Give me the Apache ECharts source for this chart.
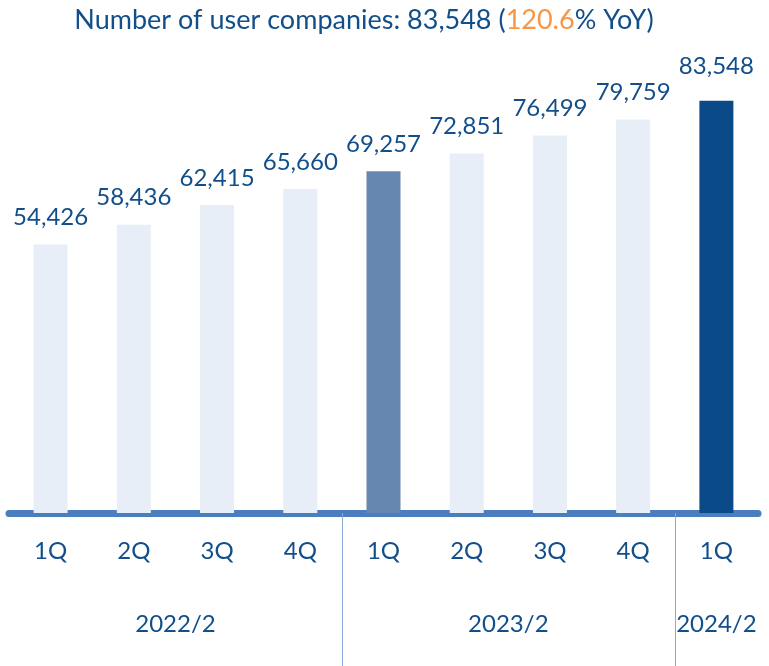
<!DOCTYPE html>
<html><head><meta charset="utf-8">
<script src="https://cdn.jsdelivr.net/npm/echarts@6/dist/echarts.min.js"></script>
<style>html,body{margin:0;padding:0;background:#fff}#c{width:769px;height:666px}</style>
</head><body><div id="c"></div>
<script>
const quarters = ['1Q','2Q','3Q','4Q','1Q','2Q','3Q','4Q','1Q'];
const userCompanies = [54426,58436,62415,65660,69257,72851,76499,79759,83548];
const fiscalYears = ['2022/2','2023/2','2024/2'];
const quartersPerYear = [4,4,1];
const yoyGrowth = '120.6';

const FONT = 'Lato';
const TEXT = '#124E8A';
const fmt = v => v.toLocaleString('en-US');

// group label centers and separator positions in band units
const groupCenters = [], separators = [];
let start = 0;
quartersPerYear.forEach((n, i) => {
  groupCenters.push(start + n / 2);
  start += n;
  if (i < quartersPerYear.length - 1) separators.push(start);
});

const last = userCompanies.length - 1;
const barData = userCompanies.map((v, i) => {
  let color = '#E7EEF7';
  if (i === last) color = '#0A4A88';
  else if (i === last - 4) color = '#6687B0';
  const item = { value: v, itemStyle: { color } };
  if (i === last) item.label = { distance: 23 };
  return item;
});

const chart = echarts.init(document.getElementById('c'));
chart.setOption({
  animation: false,
  title: {
    text: '{a|Number of user companies: ' + fmt(userCompanies[last]) + ' (}{b|' + yoyGrowth + '}{a|% YoY)}',
    left: 359, top: 2,
    textAlign: 'center',
    textStyle: {
      fontWeight: 'normal',
      rich: {
        a: { fontFamily: FONT, fontSize: 27, fontWeight: 'normal', color: TEXT },
        b: { fontFamily: FONT, fontSize: 27, fontWeight: 'normal', color: '#F79646' }
      }
    }
  },
  grid: { left: 9, right: 11, top: 69, bottom: 153, containLabel: false },
  xAxis: [{
    type: 'category',
    data: quarters,
    position: 'bottom',
    axisLine: { lineStyle: { color: '#4A7EBF', width: 7 } },
    axisTick: { show: false },
    axisLabel: { fontFamily: FONT, fontSize: 24, color: TEXT, margin: 26 }
  }, {
    type: 'value',
    min: 0, max: quarters.length,
    position: 'bottom',
    axisLine: { show: false },
    splitLine: { show: false },
    axisTick: { show: true, customValues: separators, length: 153, inside: false,
      lineStyle: { color: '#8EAADB', width: 1 } },
    axisLabel: {
      customValues: groupCenters,
      margin: 99,
      fontFamily: FONT, fontSize: 24, color: TEXT,
      formatter: v => fiscalYears[groupCenters.indexOf(v)]
    }
  }],
  yAxis: { type: 'value', min: 0, max: 90000, show: false },
  series: [{
    type: 'bar',
    data: barData,
    barWidth: 34,
    label: {
      show: true, position: 'top', distance: 15,
      fontFamily: FONT, fontSize: 24, color: TEXT,
      formatter: p => fmt(p.value)
    }
  }]
});
</script></body></html>
